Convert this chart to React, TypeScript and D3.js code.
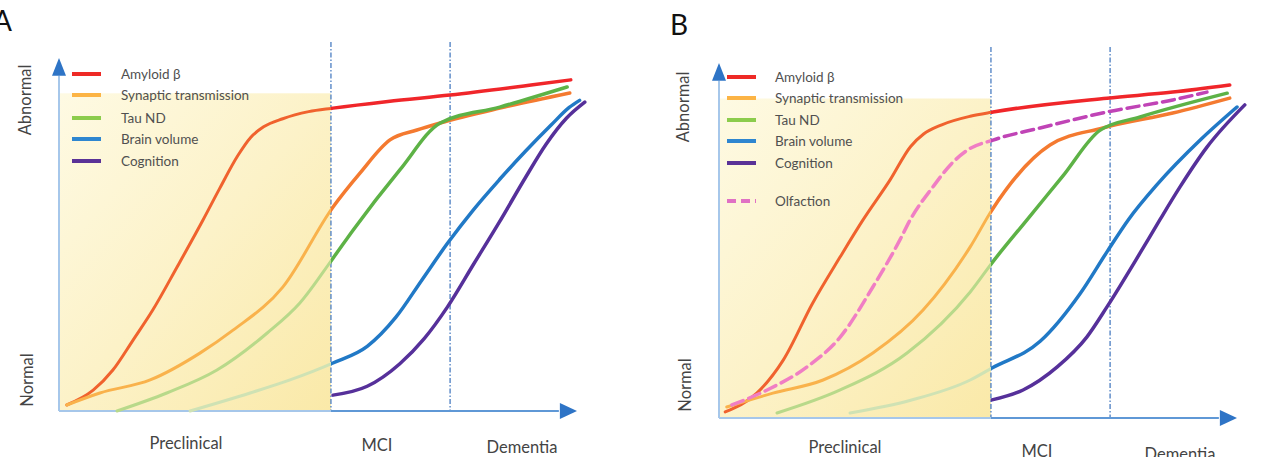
import React from "react";
import * as d3 from "d3";

type Pt = [number, number];

// Disease-stage boundaries on the time axis (0 = onset, 100 = arrow tip)
const stageBounds = [52.5, 75.5];
const stageLabels = ["Preclinical", "MCI", "Dementia"];
const shadeTop = 90;
const guideTop = 104.5;

// Panel A biomarker trajectories (time, abnormality 0-100)
const amyloidA: Pt[] = [[1.5, 1.7], [6.6, 5.9], [10.4, 11.6], [14.3, 20.1], [18.1, 28.6], [22.8, 40.8], [27.8, 54.1], [31, 63], [34.5, 72.3], [37, 77.5], [39.5, 80.5], [43.2, 82.8], [48.2, 84.8], [52.9, 85.8], [63.5, 87.7], [75.5, 89.5], [91.5, 92.4], [98.8, 93.8]];
const synapticA: Pt[] = [[1.5, 1.7], [7.9, 5.1], [17.6, 8.8], [27.2, 16.4], [33.6, 22.9], [43.2, 35.1], [52.9, 57.8], [58.1, 67.4], [63.9, 76.8], [69.1, 79.6], [73.6, 81.6], [85.1, 85.8], [98.6, 90.1]];
const tauA: Pt[] = [[11.2, 0], [20.8, 5.1], [30.5, 11.6], [40.2, 22.1], [46.5, 30.6], [52.9, 43.3], [56.8, 51.3], [65.8, 68.3], [73.6, 81.6], [85.1, 86.1], [98.1, 91.8]];
const brainA: Pt[] = [[25.3, 0], [36.9, 5.1], [44.6, 8.8], [52.9, 13.6], [59.5, 18.3], [65, 26.5], [70, 37], [75, 47.5], [80, 57], [85, 65.5], [90, 73.5], [95, 81], [98.5, 86], [100.5, 88]];
const cognitionA: Pt[] = [[52.9, 4.5], [59.5, 7.0], [65.8, 13.4], [70.5, 20.5], [75, 29.5], [80, 41.5], [85, 53.5], [90, 66], [94, 75.5], [98, 83], [101.5, 87.5]];

// Panel B trajectories, with olfaction added
const amyloidB: Pt[] = [[1.2, 1.7], [7.3, 7.0], [12.4, 16.3], [18.1, 32.4], [23.4, 45.4], [27.8, 55.8], [33.0, 67.0], [37, 76.5], [39.5, 80], [43, 82.6], [48.5, 85], [52.9, 86.2], [74.9, 90.1], [87.6, 91.8], [98.6, 93.8]];
const synapticB: Pt[] = [[1.5, 3.1], [10.4, 7.0], [20.1, 10.7], [29.7, 18.3], [39.4, 30.4], [48.5, 48.2], [52.7, 58.6], [63.9, 76.9], [74.1, 81.7], [87.6, 85.9], [98.6, 90.1]];
const tauB: Pt[] = [[11.2, 1.4], [23.4, 7.9], [36.3, 18.3], [48.5, 35.5], [52.7, 43.7], [59.5, 55.9], [66.4, 68.2], [73.6, 81.1], [81.3, 84.8], [98.1, 91.5]];
const brainB: Pt[] = [[25.3, 1.4], [37, 5], [48.5, 10.7], [52.7, 14.1], [62.0, 21.6], [69.7, 35], [74.9, 46.8], [79.0, 55.8], [84.6, 65.8], [92.9, 78.3], [100, 87.6]];
const cognitionB: Pt[] = [[52.7, 5.1], [58.7, 7.9], [65.3, 14.4], [71.0, 22.8], [74.9, 31.3], [81.3, 46.5], [85.1, 55.8], [89.0, 65.1], [94.2, 76.3], [101.5, 88.2]];
const olfactionB: Pt[] = [[2.5, 3.7], [9.3, 7.9], [17.0, 14.4], [23.4, 22.8], [29.7, 36.9], [34.9, 50.1], [36.9, 55.8], [41.3, 65.1], [44.8, 71.5], [48, 75.5], [52.9, 78.3], [62.0, 81.7], [74.9, 86.2], [87.6, 89.6], [94.2, 91.8]];

const seriesNames = ["Amyloid β", "Synaptic transmission", "Tau ND", "Brain volume", "Cognition", "Olfaction"];

type Style = { legend: string; inner: string; outer: string; dashed?: boolean };
const styles: Style[] = [
  { legend: "#ee2a26", inner: "#f0622e", outer: "#f0262a" },
  { legend: "#fcb445", inner: "#f9b24c", outer: "#f47a30" },
  { legend: "#8ccc4c", inner: "#b8d98a", outer: "#5db246" },
  { legend: "#2e86d0", inner: "#cfe2b4", outer: "#2179c6" },
  { legend: "#5a3297", inner: "#5a3297", outer: "#56309a" },
  { legend: "#e071c4", inner: "#f07ec4", outer: "#c044b6", dashed: true },
];

type Layout = {
  id: string;
  x0: number; x1: number; y0: number; y1: number;
  letter: [number, number];
  legendX: number; legendTextX: number; legendRows: number[];
  abnormal: [number, number]; normal: [number, number];
  stageLabelPos: [number, number][];
};

const layoutA: Layout = {
  id: "pa",
  x0: 59, x1: 577, y0: 411, y1: 58,
  letter: [-7, 31],
  legendX: 72, legendTextX: 121, legendRows: [74, 95, 118, 139, 161],
  abnormal: [25, 100], normal: [27, 380],
  stageLabelPos: [[186, 449], [377, 451], [522, 453]],
};
const layoutB: Layout = {
  id: "pb",
  x0: 719, x1: 1237, y0: 418, y1: 63,
  letter: [670, 35],
  legendX: 727, legendTextX: 775, legendRows: [77, 98, 120, 141, 163, 201],
  abnormal: [683, 107], normal: [685, 385],
  stageLabelPos: [[845, 453], [1037, 457], [1180, 460]],
};

const FONT = "Lato, 'Open Sans', sans-serif";

function Panel({ layout, letter, data }: { layout: Layout; letter: string; data: Pt[][] }) {
  const x = d3.scaleLinear().domain([0, 100]).range([layout.x0, layout.x1]);
  const y = d3.scaleLinear().domain([0, 100]).range([layout.y0, layout.y1]);
  const line = d3
    .line<Pt>()
    .x((d) => x(d[0]))
    .y((d) => y(d[1]))
    .curve(d3.curveMonotoneX);
  const bx = x(stageBounds[0]);
  const id = layout.id;
  const arrowBlue = "#2e74c6";

  return (
    <g>
      <defs>
        <linearGradient id={`${id}-shade`} x1="0" y1="0" x2="1" y2="1">
          <stop offset="0" stopColor="#fefae3" />
          <stop offset="0.5" stopColor="#fcf2c8" />
          <stop offset="1" stopColor="#fae9a8" />
        </linearGradient>
        <clipPath id={`${id}-in`}>
          <rect x={x(0) - 30} y={0} width={bx - x(0) + 30} height={457} />
        </clipPath>
        <clipPath id={`${id}-out`}>
          <rect x={bx} y={0} width={420} height={457} />
        </clipPath>
      </defs>

      {/* preclinical window */}
      <rect
        x={x(0)}
        y={y(shadeTop)}
        width={bx - x(0)}
        height={y(0) - y(shadeTop)}
        fill={`url(#${id}-shade)`}
      />

      {/* stage boundaries */}
      {stageBounds.map((b, i) => (
        <line
          key={i}
          x1={x(b)}
          x2={x(b)}
          y1={y(guideTop)}
          y2={y(0)}
          stroke="#4a7dc2"
          strokeWidth={1.3}
          strokeDasharray="5,2,1.5,2"
        />
      ))}

      {/* axes */}
      <line x1={x(0)} x2={x(0)} y1={y(0)} y2={y(95)} stroke="#a6c7ea" strokeWidth={2} />
      <line x1={x(0)} x2={x(96.5)} y1={y(0)} y2={y(0)} stroke="#a6c7ea" strokeWidth={2} clipPath={`url(#${id}-in)`} />
      <line x1={x(0)} x2={x(96.5)} y1={y(0)} y2={y(0)} stroke="#5f98d6" strokeWidth={2} clipPath={`url(#${id}-out)`} />
      <path
        d={`M${x(0)},${y(100)} L${x(0) - 7},${y(95)} L${x(0) + 7},${y(95)} Z`}
        fill={arrowBlue}
      />
      <path
        d={`M${x(100)},${y(0)} L${x(96.7)},${y(0) - 8} L${x(96.7)},${y(0) + 8} Z`}
        fill={arrowBlue}
      />

      {/* trajectories */}
      {data.map((pts, i) => {
        const s = styles[i];
        const d = line(pts) || "";
        return (
          <g key={i} fill="none" strokeLinecap="round" strokeLinejoin="round">
            <path
              d={d}
              stroke={s.inner}
              strokeWidth={s.dashed ? 3.5 : 3}
              strokeDasharray={s.dashed ? "12,6" : undefined}
              clipPath={`url(#${id}-in)`}
            />
            <path
              d={d}
              stroke={s.outer}
              strokeWidth={3.5}
              strokeDasharray={s.dashed ? "12,6" : undefined}
              clipPath={`url(#${id}-out)`}
            />
          </g>
        );
      })}

      {/* legend */}
      {layout.legendRows.map((ry, i) => (
        <g key={i}>
          <line
            x1={layout.legendX}
            x2={layout.legendX + 29}
            y1={ry}
            y2={ry}
            stroke={styles[i].legend}
            strokeWidth={4}
            strokeDasharray={styles[i].dashed ? "9,5" : undefined}
          />
          <text
            x={layout.legendTextX}
            y={ry}
            dy="0.35em"
            fontFamily={FONT}
            fontSize={13.5}
            fill="#505050"
          >
            {seriesNames[i]}
          </text>
        </g>
      ))}

      {/* axis captions */}
      <text
        transform={`translate(${layout.abnormal[0]},${layout.abnormal[1]}) rotate(-90)`}
        textAnchor="middle"
        dy="0.35em"
        fontFamily={FONT}
        fontSize={16.5}
        fill="#444444"
      >
        Abnormal
      </text>
      <text
        transform={`translate(${layout.normal[0]},${layout.normal[1]}) rotate(-90)`}
        textAnchor="middle"
        dy="0.35em"
        fontFamily={FONT}
        fontSize={16.5}
        fill="#444444"
      >
        Normal
      </text>
      {stageLabels.map((t, i) => (
        <text
          key={t}
          x={layout.stageLabelPos[i][0]}
          y={layout.stageLabelPos[i][1]}
          textAnchor="middle"
          fontFamily={FONT}
          fontSize={16.5}
          fill="#444444"
        >
          {t}
        </text>
      ))}

      <text x={layout.letter[0]} y={layout.letter[1]} fontFamily={FONT} fontSize={28} fill="#111111">
        {letter}
      </text>
    </g>
  );
}

export default function App() {
  return (
    <svg
      width={1266}
      height={457}
      style={{ position: "absolute", left: 0, top: 0, background: "#ffffff" }}
    >
      <rect width={1266} height={457} fill="#ffffff" />
      <Panel layout={layoutA} letter="A" data={[amyloidA, synapticA, tauA, brainA, cognitionA]} />
      <Panel
        layout={layoutB}
        letter="B"
        data={[amyloidB, synapticB, tauB, brainB, cognitionB, olfactionB]}
      />
    </svg>
  );
}
